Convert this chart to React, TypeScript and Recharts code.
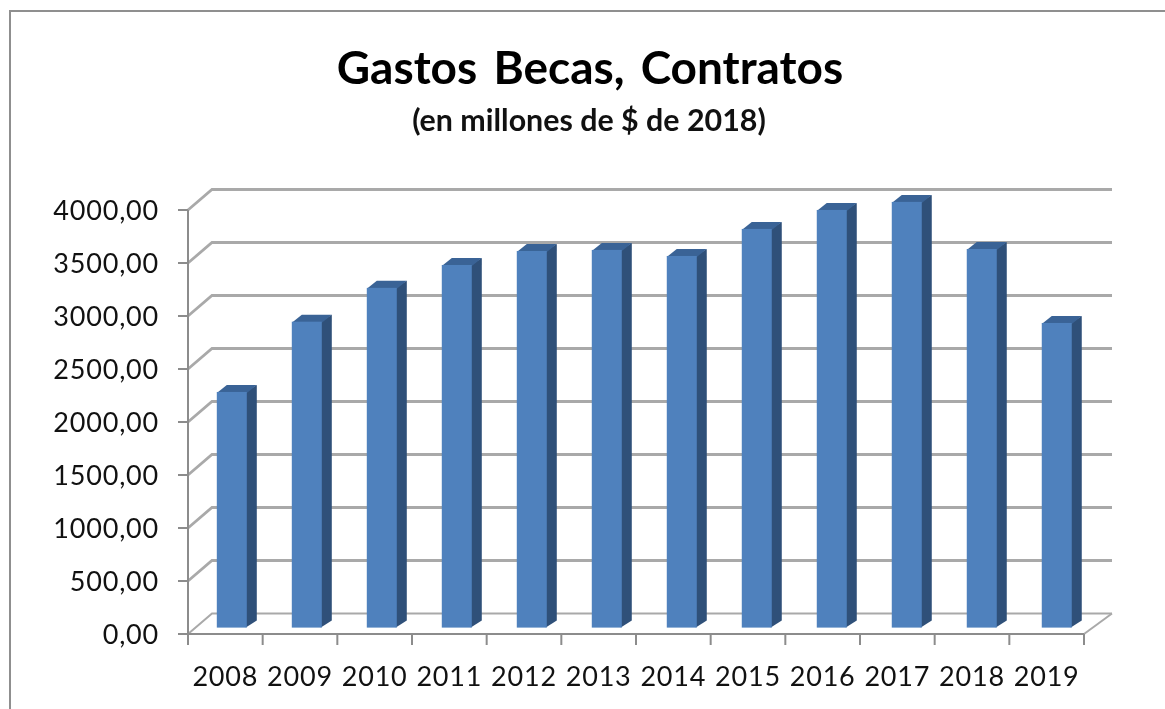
import React from "react";
import { ComposedChart, Bar, XAxis, YAxis, CartesianGrid } from "recharts";

const years = ["2008","2009","2010","2011","2012","2013","2014","2015","2016","2017","2018","2019"];
const gastos = [2223,2886,3205,3421,3553,3563,3506,3761,3940,4016,3572,2874];
const yTicks = [0,500,1000,1500,2000,2500,3000,3500,4000];
const rows = years.map((year, i) => ({ year, gastos: gastos[i] }));

const W = 1165, H = 709;
const LEFT = 188, RIGHT = 1084, TOP = 188.8, BOTTOM = 634;
const WALL_DX = 24, WALL_DY = 20.5;
const BAR_DX = 6.4, BAR_DY = 6.4, BAR_SKEW = 0.33;
const DEPTH_DX = 10, DEPTH_DY = 7;
const GRID = "#a9a9a9";
const AXIS = "#8c8c8c";
const FONT = "Lato, 'Open Sans', sans-serif";
const TEXT = "#111";

function Bar3D(p: any) {
  const x = p.x + BAR_DX + p.index * BAR_SKEW, w = p.width, y = p.y - BAR_DY, h = p.height;
  const pts = (a: number[][]) => a.map((q) => q.join(",")).join(" ");
  return (
    <g>
      <polygon fill="#2f5079" points={pts([[x+w-1,y],[x+w-1+1+DEPTH_DX,y-DEPTH_DY],[x+w+DEPTH_DX,y+h-DEPTH_DY],[x+w-1,y+h]])} />
      <polygon fill="#3a6396" points={pts([[x,y+1],[x+DEPTH_DX,y-DEPTH_DY],[x+w+DEPTH_DX,y-DEPTH_DY],[x+w,y+1]])} />
      <rect x={x} y={y} width={w} height={h} fill="#4f81bd" />
    </g>
  );
}

function GridLine(p: any) {
  const y = p.y1;
  const isFloor = Math.abs(y - BOTTOM) < 1;
  return (
    <g fill="none">
      <polyline points={`${LEFT},${y} ${LEFT+WALL_DX},${y-WALL_DY} ${RIGHT+28},${y-WALL_DY}`} stroke={GRID} strokeWidth={isFloor ? 2 : 2.8} />
      {isFloor && <line x1={RIGHT} y1={y} x2={RIGHT+28} y2={y-WALL_DY} stroke={GRID} strokeWidth={2} />}
      <line x1={LEFT} y1={y} x2={LEFT} y2={BOTTOM} stroke={AXIS} strokeWidth={2} />
    </g>
  );
}

function YTick(p: any) {
  return (
    <g>
      <line x1={LEFT - 10} y1={p.y} x2={LEFT} y2={p.y} stroke={AXIS} strokeWidth={2} />
      <text x={159} y={p.y + 10} textAnchor="end" fontFamily={FONT} fontSize={27} letterSpacing={0.8} fill={TEXT}>
        {p.payload.value.toFixed(2).replace(".", ",")}
      </text>
    </g>
  );
}

function XTick(p: any) {
  const band = (RIGHT - LEFT) / years.length;
  const last = p.index === years.length - 1;
  return (
    <g>
      <line x1={p.x - band / 2} y1={BOTTOM} x2={p.x - band / 2} y2={BOTTOM + 11} stroke={AXIS} strokeWidth={2} />
      {last && <line x1={p.x + band / 2} y1={BOTTOM} x2={p.x + band / 2} y2={BOTTOM + 11} stroke={AXIS} strokeWidth={2} />}
      <text x={p.x} y={686} textAnchor="middle" fontFamily={FONT} fontSize={27} letterSpacing={0.8} fill={TEXT}>
        {p.payload.value}
      </text>
    </g>
  );
}

export default function App() {
  return (
    <div style={{ position: "absolute", left: 0, top: 0, width: W, height: H, overflow: "hidden", background: "#fff", filter: "blur(0.7px)" }}>
      <div style={{ position: "absolute", left: 9, top: 10, width: 1160, height: 720, border: "2.5px solid #8f8f8f" }} />
      <div style={{ position: "absolute", left: 0, width: 1180, top: 38, textAlign: "center", fontFamily: FONT, fontWeight: 700, fontSize: 46, lineHeight: "58px", color: "#000", wordSpacing: 5 }}>
        Gastos Becas, Contratos
      </div>
      <div style={{ position: "absolute", left: 0, width: 1178, top: 102, textAlign: "center", fontFamily: FONT, fontWeight: 700, fontSize: 30.4, lineHeight: "34px", color: "#111" }}>
        (en millones de $ de 2018)
      </div>
      <ComposedChart
        width={W}
        height={H}
        data={rows}
        barCategoryGap="30%"
        margin={{ top: TOP, right: W - RIGHT, bottom: 0, left: 0 }}
        style={{ position: "absolute", left: 0, top: 0 }}
      >
        <CartesianGrid vertical={false} horizontal={(p: any) => <GridLine key={p.key} {...p} />} syncWithTicks />
        <XAxis dataKey="year" height={H - BOTTOM} axisLine={{ stroke: AXIS, strokeWidth: 2 }} tickLine={false} tick={<XTick />} interval={0} />
        <YAxis width={LEFT} domain={[0, 4200]} ticks={yTicks} axisLine={false} tickLine={false} tick={<YTick />} interval={0} />
        <Bar dataKey="gastos" isAnimationActive={false} shape={<Bar3D />} />
      </ComposedChart>
    </div>
  );
}
